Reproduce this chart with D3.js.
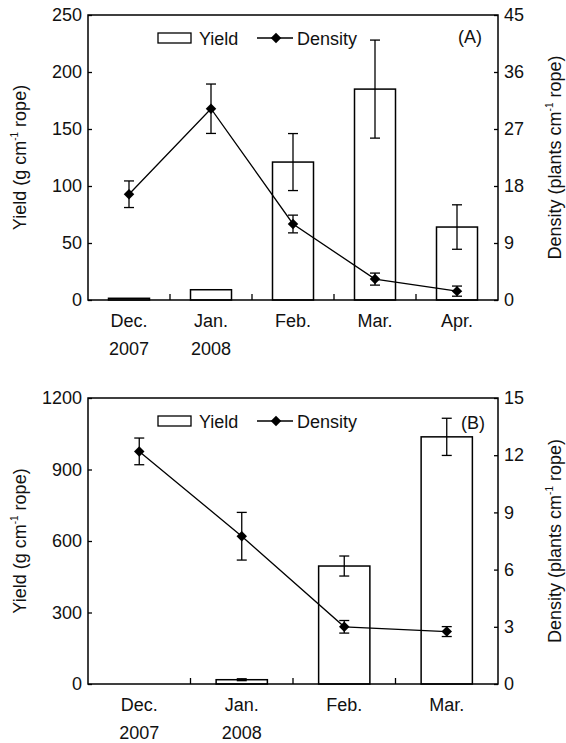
<!DOCTYPE html>
<html>
<head>
<meta charset="utf-8">
<script src="https://cdn.jsdelivr.net/npm/d3@7"></script>
<style>
  body { margin: 0; background: #fff; }
  svg { display: block; font-family: "Liberation Sans", Arial, sans-serif; }
</style>
</head>
<body>
<div class="chart"></div>
<script>
// panel A data
var monthsA = ["Dec.", "Jan.", "Feb.", "Mar.", "Apr."];
var yearsA = ["2007", "2008", "", "", ""];
var yieldA = [1.5, 9, 121, 185, 64];
var yieldErrA = [0, 0, 25, 43, 19.5];
var densityA = [16.7, 30.2, 12.0, 3.3, 1.4];
var densityErrA = [2.1, 3.9, 1.4, 0.95, 0.8];
var yieldTicksA = [0, 50, 100, 150, 200, 250];
var densityTicksA = [0, 9, 18, 27, 36, 45];

// panel B data
var monthsB = ["Dec.", "Jan.", "Feb.", "Mar."];
var yearsB = ["2007", "2008", "", ""];
var yieldB = [0, 18, 495, 1037];
var yieldErrB = [0, 4, 42, 78];
var densityB = [12.2, 7.75, 3.0, 2.75];
var densityErrB = [0.7, 1.25, 0.33, 0.26];
var yieldTicksB = [0, 300, 600, 900, 1200];
var densityTicksB = [0, 3, 6, 9, 12, 15];

var W = 566, H = 743;
var svg = d3.select(".chart").append("svg").attr("width", W).attr("height", H);

// diamond marker
var diamond = d3.symbol().type(d3.symbolDiamond2).size(70);

function drawPanel(o) {
    var g = svg.append("g");
    var left = 88, right = 498;

    var x = d3.scaleBand().domain(o.months).range([left, right]);
    var yL = d3.scaleLinear().domain([0, o.yTicks[o.yTicks.length - 1]]).range([o.bottom, o.top]);
    var yR = d3.scaleLinear().domain([0, o.dTicks[o.dTicks.length - 1]]).range([o.bottom, o.top]);
    var bw = x.bandwidth() * 0.5;
    var cx = function(i) { return x(o.months[i]) + x.bandwidth() / 2; };

    // bars
    g.selectAll("rect.bar")
        .data(o.yield)
        .enter().append("rect")
        .attr("class", "bar")
        .attr("x", function(d, i) { return cx(i) - bw / 2; })
        .attr("y", function(d) { return yL(d); })
        .attr("width", bw)
        .attr("height", function(d) { return o.bottom - yL(d); })
        .attr("fill", "#fff")
        .attr("stroke", function(d) { return d > 0 ? "#000" : "none"; })
        .attr("stroke-width", 1.5);

    // bar error bars
    o.yield.forEach(function(d, i) {
        var e = o.yieldErr[i];
        if (!e) return;
        var xx = cx(i);
        g.append("line").attr("x1", xx).attr("x2", xx).attr("y1", yL(d - e)).attr("y2", yL(d + e));
        g.append("line").attr("x1", xx - 5).attr("x2", xx + 5).attr("y1", yL(d - e)).attr("y2", yL(d - e));
        g.append("line").attr("x1", xx - 5).attr("x2", xx + 5).attr("y1", yL(d + e)).attr("y2", yL(d + e));
    });

    // density line
    g.append("path")
        .datum(o.density)
        .attr("fill", "none")
        .attr("stroke", "#000")
        .attr("stroke-width", 1.3)
        .attr("d", d3.line().x(function(d, i) { return cx(i); }).y(function(d) { return yR(d); }));

    o.density.forEach(function(d, i) {
        var e = o.densityErr[i];
        var xx = cx(i);
        g.append("line").attr("x1", xx).attr("x2", xx).attr("y1", yR(d - e)).attr("y2", yR(d + e));
        g.append("line").attr("x1", xx - 5).attr("x2", xx + 5).attr("y1", yR(d - e)).attr("y2", yR(d - e));
        g.append("line").attr("x1", xx - 5).attr("x2", xx + 5).attr("y1", yR(d + e)).attr("y2", yR(d + e));
    });

    g.selectAll("path.pt")
        .data(o.density)
        .enter().append("path")
        .attr("class", "pt")
        .attr("d", diamond)
        .attr("transform", function(d, i) { return "translate(" + cx(i) + "," + yR(d) + ")"; })
        .attr("fill", "#000");

    g.selectAll("line").attr("stroke", "#000").attr("stroke-width", 1.3);

    // frame
    g.append("rect")
        .attr("x", left).attr("y", o.top)
        .attr("width", right - left).attr("height", o.bottom - o.top)
        .attr("fill", "none").attr("stroke", "#000").attr("stroke-width", 1.5);

    // left axis
    var axL = g.append("g").attr("transform", "translate(" + left + ",0)")
        .call(d3.axisLeft(yL).tickValues(o.yTicks).tickFormat(d3.format("d"))
            .tickSizeInner(-4).tickSizeOuter(0).tickPadding(6));
    // right axis
    var axR = g.append("g").attr("transform", "translate(" + right + ",0)")
        .call(d3.axisRight(yR).tickValues(o.dTicks).tickFormat(d3.format("d"))
            .tickSizeInner(-4).tickSizeOuter(0).tickPadding(6));
    // bottom axis ticks at band boundaries
    g.selectAll("line.xt")
        .data(o.months.slice(1))
        .enter().append("line")
        .attr("class", "xt")
        .attr("x1", function(d) { return x(d); })
        .attr("x2", function(d) { return x(d); })
        .attr("y1", o.bottom).attr("y2", o.bottom - 6)
        .attr("stroke", "#000").attr("stroke-width", 1.3);

    [axL, axR].forEach(function(a) {
        a.select(".domain").remove();
        a.selectAll("line").attr("stroke", "#000").attr("stroke-width", 1.3);
        a.selectAll("text").attr("font-size", 18).attr("fill", "#111").attr("font-family", "Liberation Sans, Arial, sans-serif");
    });

    // category labels
    g.selectAll("text.mon")
        .data(o.months)
        .enter().append("text")
        .attr("x", function(d, i) { return cx(i); })
        .attr("y", o.bottom + 27)
        .attr("text-anchor", "middle")
        .attr("font-size", 18).attr("fill", "#111")
        .text(function(d) { return d; });
    g.selectAll("text.yr")
        .data(o.years)
        .enter().append("text")
        .attr("x", function(d, i) { return cx(i); })
        .attr("y", o.bottom + 55)
        .attr("text-anchor", "middle")
        .attr("font-size", 18).attr("fill", "#111")
        .text(function(d) { return d; });

    // axis titles
    var mid = (o.top + o.bottom) / 2;
    var tl = g.append("text")
        .attr("transform", "translate(26," + mid + ") rotate(-90)")
        .attr("text-anchor", "middle").attr("font-size", 18).attr("fill", "#111");
    tl.append("tspan").text("Yield (g cm");
    tl.append("tspan").attr("font-size", 10).attr("dy", -8).text("-1");
    tl.append("tspan").attr("dy", 8).text(" rope)");

    var tr = g.append("text")
        .attr("transform", "translate(561," + mid + ") rotate(-90)")
        .attr("text-anchor", "middle").attr("font-size", 18).attr("fill", "#111");
    tr.append("tspan").text("Density (plants cm");
    tr.append("tspan").attr("font-size", 10).attr("dy", -8).text("-1");
    tr.append("tspan").attr("dy", 8).text(" rope)");

    // legend
    var ly = o.top + 23;
    g.append("rect").attr("x", 158).attr("y", ly - 5).attr("width", 33).attr("height", 10)
        .attr("fill", "#fff").attr("stroke", "#000").attr("stroke-width", 1.3);
    g.append("text").attr("x", 199).attr("y", ly + 7).attr("font-size", 18).attr("fill", "#111").text("Yield");
    g.append("line").attr("x1", 257).attr("x2", 293).attr("y1", ly).attr("y2", ly)
        .attr("stroke", "#000").attr("stroke-width", 1.3);
    g.append("path").attr("d", diamond).attr("transform", "translate(276," + ly + ")").attr("fill", "#000");
    g.append("text").attr("x", 297).attr("y", ly + 7).attr("font-size", 18).attr("fill", "#111").text("Density");

    // panel label
    g.append("text").attr("x", o.labelX).attr("y", o.labelY)
        .attr("text-anchor", "end").attr("font-size", 18).attr("fill", "#111").text(o.label);
}

drawPanel({
    months: monthsA, years: yearsA,
    yield: yieldA, yieldErr: yieldErrA,
    density: densityA, densityErr: densityErrA,
    yTicks: yieldTicksA, dTicks: densityTicksA,
    top: 15, bottom: 300, label: "(A)", labelX: 482, labelY: 43
});

drawPanel({
    months: monthsB, years: yearsB,
    yield: yieldB, yieldErr: yieldErrB,
    density: densityB, densityErr: densityErrB,
    yTicks: yieldTicksB, dTicks: densityTicksB,
    top: 398, bottom: 684, label: "(B)", labelX: 485, labelY: 429
});
</script>
</body>
</html>
